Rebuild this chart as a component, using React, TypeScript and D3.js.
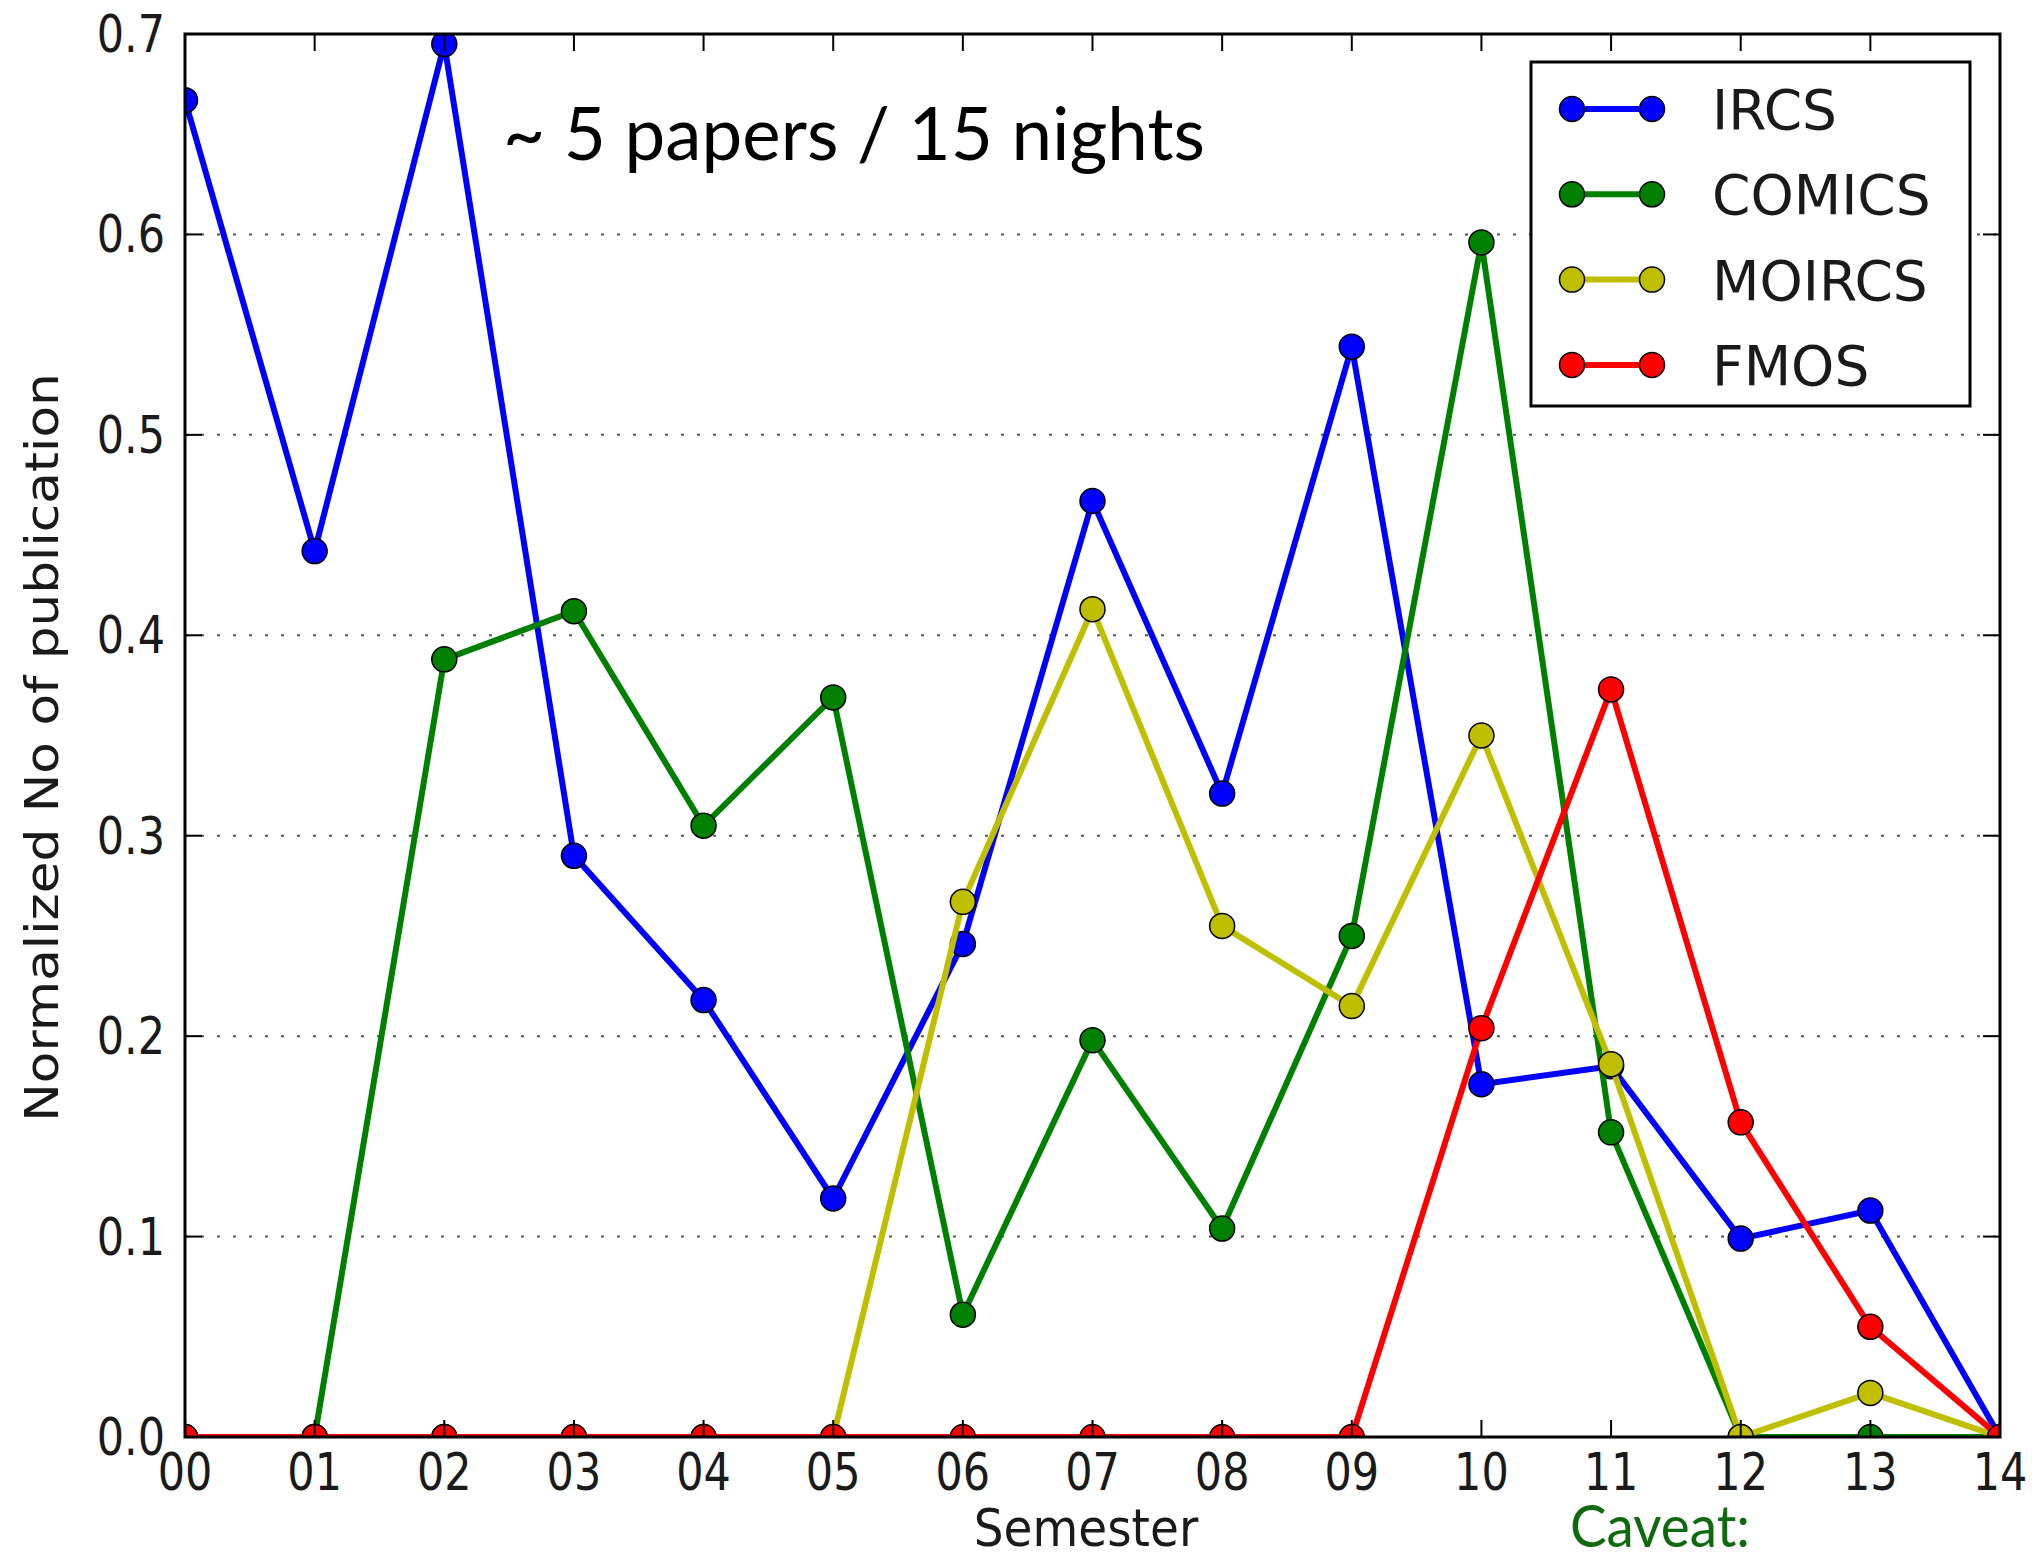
import React from "react";
import * as d3 from "d3";

const semesters = ["00","01","02","03","04","05","06","07","08","09","10","11","12","13","14"];
const ircs = [0.667,0.442,0.695,0.290,0.218,0.119,0.246,0.467,0.321,0.544,0.176,0.185,0.099,0.113,0.0];
const comics = [0,0,0.388,0.412,0.305,0.369,0.061,0.198,0.104,0.250,0.596,0.152,0,0,0];
const moircs = [0,0,0,0,0,0,0.267,0.413,0.255,0.215,0.350,0.186,0,0.022,0];
const fmos = [0,0,0,0,0,0,0,0,0,0,0.204,0.373,0.157,0.055,0];
const yTicks = [0,0.1,0.2,0.3,0.4,0.5,0.6,0.7];
const seriesNames = ["IRCS","COMICS","MOIRCS","FMOS"];
const seriesColors = ["#0000ff","#008000","#bfbf00","#ff0000"];
const seriesValues = [ircs, comics, moircs, fmos];

const W = 2036, H = 1554;
const L = 185, R = 2000, T = 34, B = 1437;

export default function App() {
  const x = d3.scaleLinear().domain([0, semesters.length - 1]).range([L, R]);
  const y = d3.scaleLinear().domain([0, 0.7]).range([B, T]);
  const line = d3.line<number>().x((_, i) => x(i)).y(d => y(d));
  const tickFont = "'DejaVu Sans', sans-serif";
  return (
    <svg width={W} height={H} style={{ display: "block", position: "absolute", left: 0, top: 0 }} xmlns="http://www.w3.org/2000/svg">
      <rect x={0} y={0} width={W} height={H} fill="#fff" />
      <defs>
        <clipPath id="plotclip">
          <rect x={L} y={T} width={R - L} height={B - T} />
        </clipPath>
      </defs>
      {/* grid */}
      {yTicks.filter(t => t > 0 && t < 0.7).map(t => (
        <line key={"g" + t} x1={L} x2={R} y1={y(t)} y2={y(t)} stroke="#555" strokeWidth={2} strokeDasharray="3,13" />
      ))}
      {/* series */}
      <g clipPath="url(#plotclip)">
        {seriesValues.map((vals, si) => (
          <g key={seriesNames[si]}>
            <path d={line(vals) || ""} fill="none" stroke={seriesColors[si]} strokeWidth={6} strokeLinejoin="round" />
            {vals.map((v, i) => (
              <circle key={i} cx={x(i)} cy={y(v)} r={12.5} fill={seriesColors[si]} stroke="#000" strokeWidth={1.5} />
            ))}
          </g>
        ))}
      </g>
      {/* frame */}
      <rect x={L} y={T} width={R - L} height={B - T} fill="none" stroke="#000" strokeWidth={3} />
      {/* ticks */}
      {semesters.map((s, i) => (
        <g key={"xt" + s}>
          <line x1={x(i)} x2={x(i)} y1={B} y2={B - 17} stroke="#000" strokeWidth={2} />
          <line x1={x(i)} x2={x(i)} y1={T} y2={T + 17} stroke="#000" strokeWidth={2} />
          <text transform={`translate(${x(i)},1490) scale(1,1.18)`} textAnchor="middle" fontFamily={tickFont} fontSize={43} fill="#1a1a1a">{s}</text>
        </g>
      ))}
      {yTicks.map(t => (
        <g key={"yt" + t}>
          <line x1={L} x2={L + 17} y1={y(t)} y2={y(t)} stroke="#000" strokeWidth={2} />
          <line x1={R} x2={R - 17} y1={y(t)} y2={y(t)} stroke="#000" strokeWidth={2} />
          <text transform={`translate(165,${y(t) + 18}) scale(1,1.18)`} textAnchor="end" fontFamily={tickFont} fontSize={43} fill="#1a1a1a">{t.toFixed(1)}</text>
        </g>
      ))}
      {/* axis labels */}
      <text transform={`translate(1086,1546) scale(1,1.1)`} textAnchor="middle" fontFamily={tickFont} fontSize={47} fill="#1a1a1a">Semester</text>
      <text transform={`translate(58,${(T + B) / 2 + 12}) rotate(-90) scale(1.1,1)`} textAnchor="middle" fontFamily={tickFont} fontSize={47} fill="#1a1a1a">Normalized No of publication</text>
      {/* legend */}
      <rect x={1531} y={62} width={439} height={344} fill="#fff" stroke="#000" strokeWidth={3} />
      {seriesNames.map((n, i) => {
        const ly = 109 + i * 85.3;
        return (
          <g key={"lg" + n}>
            <line x1={1572} x2={1652} y1={ly} y2={ly} stroke={seriesColors[i]} strokeWidth={6} />
            <circle cx={1572} cy={ly} r={12.5} fill={seriesColors[i]} stroke="#000" strokeWidth={1.5} />
            <circle cx={1652} cy={ly} r={12.5} fill={seriesColors[i]} stroke="#000" strokeWidth={1.5} />
            <text x={1712} y={ly + 20} fontFamily={tickFont} fontSize={55} fill="#1a1a1a">{n}</text>
          </g>
        );
      })}
      {/* annotations */}
      <text x={503} y={160} fontFamily="Lato, 'Open Sans', sans-serif" fontSize={74} textLength={702} lengthAdjust="spacingAndGlyphs" fill="#000">~ 5 papers / 15 nights</text>
      <text x={1570} y={1547} fontFamily="Lato, 'Open Sans', sans-serif" fontSize={58} textLength={180} lengthAdjust="spacingAndGlyphs" fill="#0f6a0f">Caveat:</text>
    </svg>
  );
}
